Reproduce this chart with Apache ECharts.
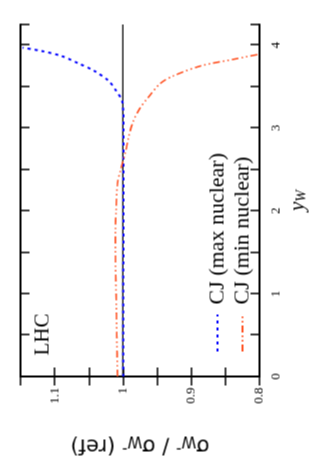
<!DOCTYPE html>
<html>
<head>
<meta charset="utf-8">
<script src="https://cdn.jsdelivr.net/npm/echarts@6/dist/echarts.min.js"></script>
<style>
html,body{margin:0;padding:0;background:#fff;overflow:hidden;}
body{width:327px;height:466px;position:relative;}
#chart{position:absolute;width:466px;height:327px;left:-69.5px;top:69.5px;transform:rotate(-90deg);transform-origin:50% 50%;}
</style>
</head>
<body>
<div id="chart"></div>
<script>
// y_W values and ratio sigma_W- / sigma_W-(ref)
const maxNuclearY = [0, 0.5, 1.0, 1.5, 2.0, 2.5, 3.0, 3.2, 3.33, 3.45, 3.57, 3.69, 3.78, 3.87, 3.93, 3.97];
const maxNuclearR = [0.9995, 0.9995, 0.9995, 0.9993, 0.9992, 0.999, 0.999, 0.9995, 1.0013, 1.010, 1.021, 1.042, 1.065, 1.090, 1.119, 1.147];
const minNuclearY = [0.0, 0.5, 1.0, 1.5, 1.75, 2.0, 2.33, 2.48, 2.72, 2.88, 3.08, 3.24, 3.36, 3.54, 3.63, 3.75, 3.83, 3.89];
const minNuclearR = [1.008, 1.009, 1.010, 1.011, 1.011, 1.010, 1.008, 1.004, 0.996, 0.992, 0.985, 0.975, 0.964, 0.945, 0.926, 0.886, 0.838, 0.801];
const refY = [0, 4.25];
const refR = [1, 1];
const seriesNames = ['CJ (max nuclear)', 'CJ (min nuclear)'];
const xTickLabels = ['0', '1', '2', '3', '4'];
const yTickLabels = ['0.8', '0.9', '1', '1.1'];

const zip = (a, b) => a.map((v, i) => [v, b[i]]);
const serif = 'Liberation Serif';

const chart = echarts.init(document.getElementById('chart'), null, {renderer: 'canvas'});
const frame = {lineStyle: {color: '#000', width: 2}};
const tick = {inside: true, length: 9, lineStyle: {color: '#000', width: 1.5}};
chart.setOption({
  animation: false,
  backgroundColor: '#fff',
  grid: {left: 90, right: 24, top: 20, bottom: 68, containLabel: false},
  legend: {
    orient: 'vertical', left: 109, top: 200, itemWidth: 37, itemHeight: 12, itemGap: 1,
    data: seriesNames,
    itemStyle: {opacity: 0},
    textStyle: {fontFamily: serif, fontSize: 22, lineHeight: 24, color: '#000', padding: [0, 0, 0, 5]}
  },
  graphic: [{type: 'text', left: 111, top: 32, style: {text: 'LHC', font: '21px "Liberation Serif"', fill: '#000'}}],
  xAxis: [{
    type: 'value', min: 0, max: 4.25, interval: 0.5, position: 'bottom',
    axisLine: frame, axisTick: tick, splitLine: {show: false},
    axisLabel: {margin: 10, fontFamily: serif, fontSize: 13, color: '#000',
      formatter: v => { const i = xTickLabels.indexOf(String(v)); return i >= 0 && Number.isInteger(v) ? xTickLabels[i] : ''; }},
    name: '{i|y}{s|W}', nameLocation: 'middle', nameGap: 25,
    nameTextStyle: {rich: {i: {fontFamily: serif, fontStyle: 'italic', fontSize: 21, color: '#000'},
                            s: {fontFamily: serif, fontStyle: 'italic', fontSize: 14, color: '#000', verticalAlign: 'bottom', padding: [8, 0, 0, 0]}}}
  }, {
    type: 'value', min: 0, max: 4.25, interval: 0.5, position: 'top',
    axisLine: frame, axisTick: tick, axisLabel: {show: false}, splitLine: {show: false}
  }],
  yAxis: [{
    type: 'value', min: 0.8, max: 1.15, interval: 0.05, position: 'left',
    axisLine: frame, axisTick: tick, splitLine: {show: false},
    axisLabel: {margin: 11, fontFamily: serif, fontSize: 13, color: '#000',
      formatter: v => { const t = Math.round(v * 10) / 10; if (Math.abs(v - t) > 1e-6) return ''; const s = String(t); return yTickLabels.indexOf(s) >= 0 ? s : ''; }},
    name: 'σ{s|W}{p|-} / σ{s|W}{p|-} (ref)', nameLocation: 'middle', nameGap: 56,
    nameTextStyle: {fontFamily: 'DejaVu Sans', fontSize: 21, color: '#000',
      rich: {s: {fontFamily: 'DejaVu Sans', fontSize: 15, color: '#000', padding: [9, 0, 0, 0]},
             p: {fontFamily: 'DejaVu Sans', fontSize: 15, color: '#000', padding: [0, 0, 7, 0]}}}
  }, {
    type: 'value', min: 0.8, max: 1.15, interval: 0.05, position: 'right',
    axisLine: frame, axisTick: tick, axisLabel: {show: false}, splitLine: {show: false}
  }],
  series: [{
    name: seriesNames[0], type: 'line', symbol: 'none', smooth: 0.3,
    data: zip(maxNuclearY, maxNuclearR),
    lineStyle: {color: '#0000ff', width: 2, type: [3, 4]}, itemStyle: {color: '#0000ff'}
  }, {
    name: seriesNames[1], type: 'line', symbol: 'none', smooth: 0.3,
    data: zip(minNuclearY, minNuclearR),
    lineStyle: {color: '#ff5020', width: 1.6, type: [7, 3, 1.5, 3, 1.5, 3]}, itemStyle: {color: '#ff5020'}
  }, {
    name: 'ref', type: 'line', symbol: 'none', silent: true,
    data: zip(refY, refR),
    lineStyle: {color: '#000', width: 1.3}, z: 1
  }]
});
</script>
</body>
</html>
